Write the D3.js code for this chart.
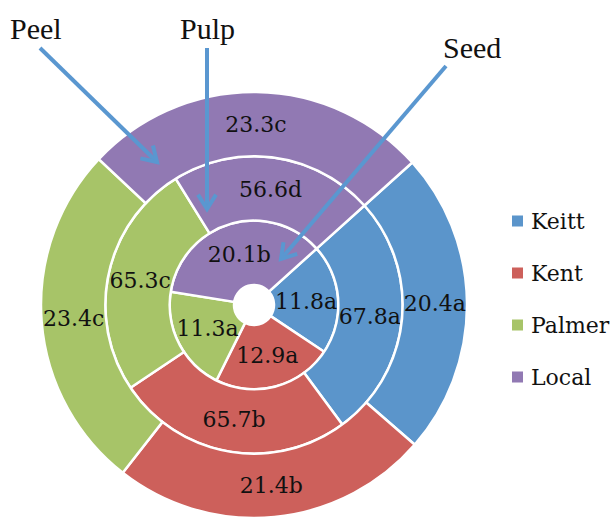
<!DOCTYPE html>
<html>
<head>
<meta charset="utf-8">
<script src="https://cdn.jsdelivr.net/npm/d3@7"></script>
<style>
  body { margin: 0; background: #fff; }
  svg { display: block; }
</style>
</head>
<body>
<svg id="chart"></svg>
<script>
"use strict";

// data (rings from inside out: seed, pulp, peel)
const varieties = ["Keitt", "Kent", "Palmer", "Local"];
const seedValues = [11.8, 12.9, 11.3, 20.1];
const seedLetters = ["a", "a", "a", "b"];
const pulpValues = [67.8, 65.7, 65.3, 56.6];
const pulpLetters = ["a", "b", "c", "d"];
const peelValues = [20.4, 21.4, 23.4, 23.3];
const peelLetters = ["a", "b", "c", "c"];
const colors = ["#5b95cb", "#cd605b", "#a7c468", "#9179b3"];

const width = 613;
const height = 520;
const cx = 254;
const cy = 305;
const holeRadius = 20;
const outerRadius = 213;
const startDeg = 48;

const svg = d3.select("#chart").attr("width", width).attr("height", height);

const rings = [
  { name: "Seed", values: seedValues, letters: seedLetters },
  { name: "Pulp", values: pulpValues, letters: pulpLetters },
  { name: "Peel", values: peelValues, letters: peelLetters },
];

const radius = d3
  .scaleLinear()
  .domain([0, rings.length])
  .range([holeRadius, outerRadius]);

const color = d3.scaleOrdinal().domain(varieties).range(colors);

const start = (startDeg * Math.PI) / 180;
const pie = d3
  .pie()
  .sort(null)
  .value((d) => d.value)
  .startAngle(start)
  .endAngle(start + 2 * Math.PI);

const g = svg.append("g").attr("transform", `translate(${cx},${cy})`);

rings.forEach((ring, i) => {
  const arc = d3.arc().innerRadius(radius(i)).outerRadius(radius(i + 1));
  const rows = varieties.map((v, j) => ({
    name: v,
    value: ring.values[j],
    letter: ring.letters[j],
  }));
  const slices = pie(rows);
  const rg = g.append("g").attr("class", "ring-" + ring.name);

  rg.selectAll("path")
    .data(slices)
    .enter()
    .append("path")
    .attr("d", arc)
    .attr("fill", (d) => color(d.data.name))
    .attr("stroke", "#fff")
    .attr("stroke-width", 2.5);

  rg.selectAll("text")
    .data(slices)
    .enter()
    .append("text")
    .attr("transform", (d) => `translate(${arc.centroid(d)})`)
    .attr("text-anchor", "middle")
    .attr("dominant-baseline", "central")
    .attr("font-family", "DejaVu Serif, serif")
    .attr("font-size", 22)
    .attr("fill", "#111")
    .text((d) => d.data.value.toFixed(1) + d.data.letter);
});

// legend
const legendY = d3.scalePoint().domain(varieties).range([221, 377]);
const legend = svg.append("g").attr("transform", "translate(512,0)");
const items = legend
  .selectAll("g")
  .data(varieties)
  .enter()
  .append("g")
  .attr("transform", (d) => `translate(0,${legendY(d)})`);
items
  .append("rect")
  .attr("x", 0)
  .attr("y", -5.5)
  .attr("width", 11)
  .attr("height", 11)
  .attr("fill", (d) => color(d));
items
  .append("text")
  .attr("x", 19)
  .attr("dominant-baseline", "central")
  .attr("font-family", "DejaVu Serif, serif")
  .attr("font-size", 22)
  .attr("fill", "#111")
  .text((d) => d);

// callout arrows
const callouts = [
  { label: "Peel", tx: 10, ty: 39, from: [40, 48], to: [157, 162] },
  { label: "Pulp", tx: 180, ty: 39, from: [207, 48], to: [207, 209] },
  { label: "Seed", tx: 443, ty: 58, from: [446, 66], to: [281, 259] },
];
const arrowColor = "#5a97d0";
const headLen = 17;
const headAng = (32 * Math.PI) / 180;

callouts.forEach((c) => {
  svg
    .append("text")
    .attr("x", c.tx)
    .attr("y", c.ty)
    .attr("font-family", "Liberation Serif, Times New Roman, serif")
    .attr("font-size", 30)
    .attr("fill", "#111")
    .text(c.label);

  svg
    .append("line")
    .attr("x1", c.from[0])
    .attr("y1", c.from[1])
    .attr("x2", c.to[0])
    .attr("y2", c.to[1])
    .attr("stroke", arrowColor)
    .attr("stroke-width", 4);

  const a = Math.atan2(c.to[1] - c.from[1], c.to[0] - c.from[0]) + Math.PI;
  const p1 = [c.to[0] + headLen * Math.cos(a - headAng), c.to[1] + headLen * Math.sin(a - headAng)];
  const p2 = [c.to[0] + headLen * Math.cos(a + headAng), c.to[1] + headLen * Math.sin(a + headAng)];
  svg
    .append("path")
    .attr("d", d3.line()([p1, c.to, p2]))
    .attr("fill", "none")
    .attr("stroke", arrowColor)
    .attr("stroke-width", 4)
    .attr("stroke-linejoin", "miter");
});
</script>
</body>
</html>
